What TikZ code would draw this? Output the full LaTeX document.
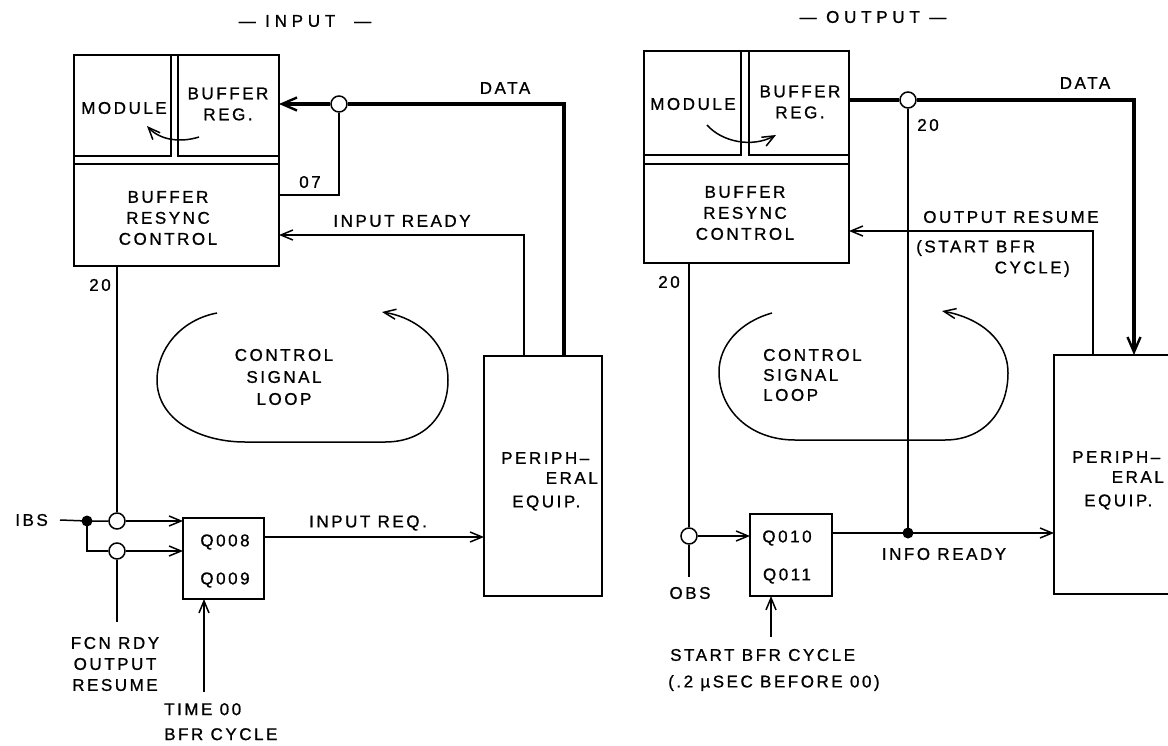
\documentclass[tikz,border=0pt]{standalone}
\usepackage{fontspec}
\newfontfamily\lab[LetterSpace=15,FakeBold=1]{Liberation Sans}
\newfontfamily\labw[LetterSpace=28,FakeBold=1]{Liberation Sans}
\usetikzlibrary{arrows.meta}
\begin{document}
\begin{tikzpicture}[x=1pt,y=-1pt,
  lbl/.style={font=\lab\fontsize{17}{21}\selectfont, inner sep=0pt, align=center},
  ttl/.style={font=\labw\fontsize{17}{21}\selectfont, inner sep=0pt},
  box/.style={draw, line width=1.6pt, inner sep=0pt, outer sep=0pt, anchor=north west},
  wire/.style={line width=1.5pt},
  bus/.style={line width=4.5pt},
  arr/.style={-{Straight Barb[length=12pt,width=10pt,line width=1.5pt]}},
  barr/.style={-{Straight Barb[length=15pt,width=13pt,line width=2.4pt]}},
  jo/.style={circle, draw, fill=white, minimum size=16pt, inner sep=0pt, line width=1.5pt},
  jd/.style={circle, fill, minimum size=11pt, inner sep=0pt}]
\useasboundingbox (0,0) rectangle (1168,745);

% ================= INPUT =================
\node[ttl] (tIn) at (305,21) {—\ INPUT\ \ —};
\node[box, minimum width=205pt, minimum height=211pt] (frA) at (74,55) {};
\node[box, minimum width=97pt, minimum height=101pt] (modA) at (74,55) {};
\node[box, minimum width=101pt, minimum height=101pt] (bufA) at (178,55) {};
\node[box, minimum width=205pt, minimum height=102pt] (resA) at (74,164) {};
\node[lbl] (tModA) at (124,108) {MODULE};
\node[lbl] (tBufA) at (228,104) {BUFFER\\REG.};
\node[lbl] (tResA) at (168,218) {BUFFER\\RESYNC\\CONTROL};
\draw[wire, arr] (199,137) .. controls (180,143) and (160,140) .. (147,126);

\node[jo] (jA) at (339,104) {};
\coordinate (cA) at (564,104);
\node[box, minimum width=118pt, minimum height=240pt] (perA) at (484,356) {};
\node[lbl, anchor=west] (pA1) at (501,458) {PERIPH–};
\node[lbl, anchor=east] (pA2) at (598,478) {ERAL};
\node[lbl, anchor=west] (pA3) at (512,503) {EQUIP.};

\draw[bus] (perA.north -| cA) -- (cA) -- (jA.east);
\draw[bus, barr] (jA.west) -- (bufA.east |- jA);
\node[lbl] (tDA) at (505,88) {DATA};
\draw[wire] (jA.south) |- (resA.east |- 0,195);
\node[lbl] (t07) at (310,182) {07};
\draw[wire, arr] (perA.north -| 524,0) |- (resA.east |- 0,235);
\node[lbl] (tIR) at (402,221) {INPUT READY};

\node[lbl] (t20A) at (100,285) {20};
\node[jo] (j1) at (117,521) {};
\node[jo] (j2) at (117,551) {};
\node[jd] (d1) at (87,521) {};
\node[box, minimum width=81pt, minimum height=81pt] (q8) at (183,518) {};
\node[lbl] (tq8) at (225,561) {Q008\\[17pt]Q009};
\draw[wire] (resA.south -| j1) -- (j1.north);
\node[lbl, anchor=east] (tIBS) at (48,520) {IBS};
\draw[wire] ([xshift=12pt]tIBS.east) -- (d1.center) -- (j1.west);
\draw[wire, arr] (j1.east) -- (q8.west |- j1);
\draw[wire] (d1.center) |- (j2.west);
\draw[wire, arr] (j2.east) -- (q8.west |- j2);
\coordinate (fcnEnd) at (117,622);
\draw[wire] (j2.south) -- (fcnEnd);
\node[lbl] (tFCN) at (115,664) {FCN RDY\\OUTPUT\\RESUME};
\draw[wire, arr] (q8.east |- 0,537) -- (perA.west |- 0,537);
\node[lbl] (tIRQ) at (368,523) {INPUT REQ.};
\coordinate (tmS) at (204,692);
\draw[wire, arr] (tmS) -- (q8.south -| tmS);
\node[lbl, anchor=north west, align=left] (tTM) at (164,703) {TIME 00\\[4pt]BFR CYCLE};

\draw[wire, arr] (217,313) .. controls (180,320) and (157,350) .. (157,380)
  .. controls (157,420) and (200,442) .. (245,442) -- (385,442)
  .. controls (425,442) and (448,415) .. (448,380)
  .. controls (448,345) and (420,318) .. (382,312);
\node[lbl, font=\lab\fontsize{17}{22}\selectfont] (tLA) at (284,377) {CONTROL\\SIGNAL\\LOOP};

% ================= OUTPUT =================
\node[ttl] (tOut) at (873,17) {—\ OUTPUT\ —};
\node[box, minimum width=205pt, minimum height=212pt] (frB) at (644,51) {};
\node[box, minimum width=97pt, minimum height=104pt] (modB) at (644,51) {};
\node[box, minimum width=100pt, minimum height=104pt] (bufB) at (749,51) {};
\node[box, minimum width=205pt, minimum height=99pt] (resB) at (644,164) {};
\node[lbl] (tModB) at (693,104) {MODULE};
\node[lbl] (tBufB) at (800,102) {BUFFER\\REG.};
\node[lbl] (tResB) at (745,213) {BUFFER\\RESYNC\\CONTROL};
\draw[wire, arr] (707,125) .. controls (722,142) and (752,148) .. (776,135);

\node[jo] (jB) at (908,100) {};
\coordinate (cB) at (1134,100);
\node[box, minimum width=118pt, minimum height=239pt] (perB) at (1054,355) {};
\node[lbl, anchor=west] (pB1) at (1072,457) {PERIPH–};
\node[lbl, anchor=east] (pB2) at (1164,477) {ERAL};
\node[lbl, anchor=west] (pB3) at (1084,502) {EQUIP.};

\draw[bus] (bufB.east |- jB) -- (jB.west);
\draw[bus, barr] (jB.east) -- (cB) -- (perB.north -| cB);
\node[lbl] (tDB) at (1085,83) {DATA};
\node[lbl] (t20B) at (928,125) {20};
\node[jd] (dB) at (908,533) {};
\draw[wire] (jB.south) -- (dB.center);
\draw[wire, arr] (perB.north -| 1093,0) |- (resB.east |- 0,231);
\node[lbl] (tOR) at (1011,217) {OUTPUT RESUME};
\node[lbl, anchor=west] (tSB1) at (916,248) {(START BFR};
\node[lbl, anchor=east] (tSB2) at (1070,269) {CYCLE)};

\node[lbl] (t20C) at (669,282) {20};
\node[jo] (jO) at (689,536) {};
\draw[wire] (resB.south -| jO) -- (jO.north);
\coordinate (obsE) at (689,577);
\draw[wire] (jO.south) -- (obsE);
\node[lbl] (tOBS) at (690,593) {OBS};
\node[box, minimum width=82pt, minimum height=82pt] (q10) at (750,514) {};
\node[lbl] (tq10) at (787,557) {Q010\\[17pt]Q011};
\draw[wire, arr] (jO.east) -- (q10.west |- jO);
\draw[wire] (q10.east |- dB) -- (dB.center);
\draw[wire, arr] (dB.center) -- (perB.west |- dB);
\node[lbl] (tIfR) at (944,554) {INFO\ READY};
\coordinate (stS) at (771,637);
\draw[wire, arr] (stS) -- (q10.south -| stS);
\node[lbl, anchor=west] (tSt1) at (670,655) {START\ BFR CYCLE};
\node[lbl, anchor=west] (tSt2) at (668,683) {(.2 µSEC BEFORE 00)};

\draw[wire, arr] (772,313) .. controls (740,322) and (719,345) .. (719,372)
  .. controls (719,410) and (750,440) .. (795,440) -- (945,440)
  .. controls (985,440) and (1008,410) .. (1008,373)
  .. controls (1008,340) and (980,318) .. (942,311);
\node[lbl, anchor=west, align=left, font=\lab\fontsize{17}{20}\selectfont] (tLB) at (763,375) {CONTROL\\SIGNAL\\LOOP};
\end{tikzpicture}
\end{document}
